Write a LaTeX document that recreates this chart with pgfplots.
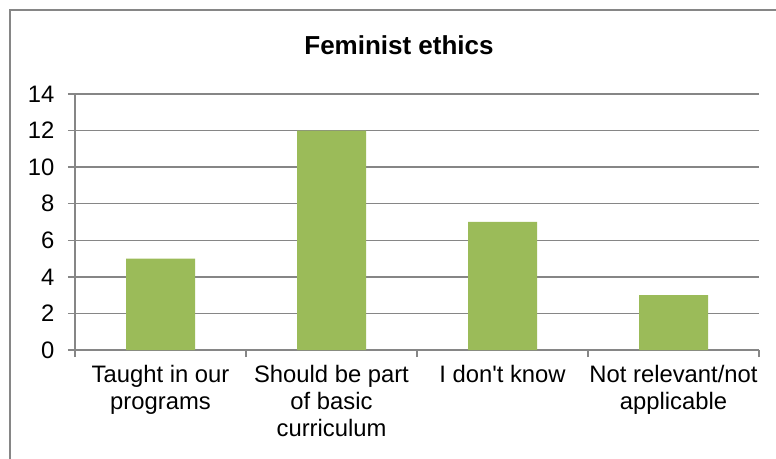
\documentclass[border=0pt]{standalone}
\usepackage{pgfplots}
\pgfplotsset{compat=1.18}
\usepackage{fontspec}
\setmainfont{Liberation Sans}
\definecolor{barg}{HTML}{9BBB59}
\definecolor{axg}{HTML}{868686}
\begin{document}
\begin{tikzpicture}[x=1pt,y=1pt]
\path[use as bounding box] (0,0) rectangle (776,458);
\draw[axg, line width=1.5pt] (10,-5) -- (10,448) -- (790,448);
\node[font=\fontsize{26}{30}\selectfont\bfseries, anchor=base] at (399,403) {Feminist ethics};
\begin{axis}[
  at={(75pt,108pt)}, anchor=south west,
  scale only axis, width=684pt, height=256pt,
  xmin=-0.5, xmax=3.5, ymin=0, ymax=14,
  ytick={0,2,...,14},
  xtick={0,1,2,3},
  xticklabels={{Taught in our\\programs},{Should be part\\of basic\\curriculum},{I don\textquotesingle t know},{Not relevant/not\\applicable}},
  minor xtick={-0.5,0.5,1.5,2.5,3.5},
  major x tick style={draw=none},
  tick align=outside,
  major tick length=7pt, minor tick length=7pt,
  tick style={axg, line width=1.5pt},
  axis lines*=left,
  axis line style={axg, line width=1.5pt},
  ymajorgrids, grid style={axg, line width=1.3pt},
  ticklabel style={font=\fontsize{23.8}{27}\selectfont},
  /pgf/number format/assume math mode=true,
  xticklabel style={align=center, anchor=north, yshift=-5pt},
  yticklabel style={xshift=-10pt},
  ybar, bar width=69pt,
]
\addplot[fill=barg, draw=none] coordinates {(0,5) (1,12) (2,7) (3,3)};
\end{axis}
\end{tikzpicture}
\end{document}
